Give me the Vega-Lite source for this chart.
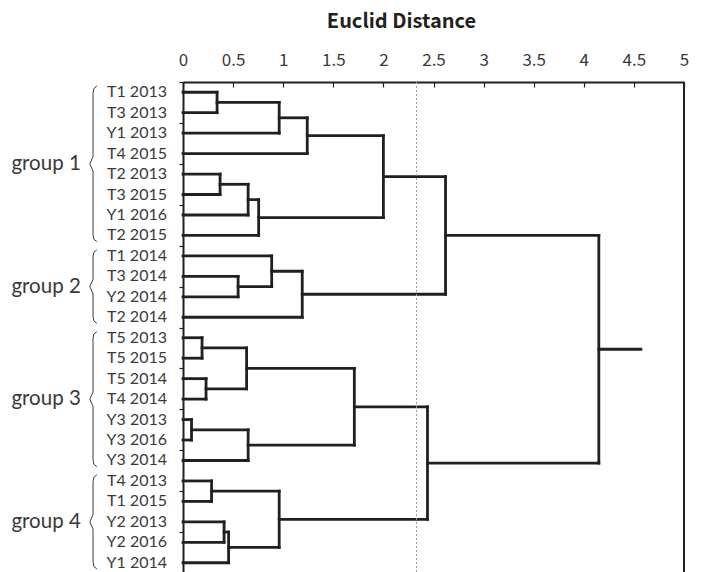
{
  "$schema": "https://vega.github.io/schema/vega-lite/v6.json",
  "width": 501,
  "height": 491,
  "autosize": "none",
  "padding": {"left": 183, "top": 82, "right": 19, "bottom": 0},
  "background": "white",
  "config": {
    "view": {"stroke": null},
    "font": "Noto Sans CJK JP"
  },
  "datasets": {
    "leaves": [
      {"name": "T1 2013", "idx": 0}, {"name": "T3 2013", "idx": 1}, {"name": "Y1 2013", "idx": 2},
      {"name": "T4 2015", "idx": 3}, {"name": "T2 2013", "idx": 4}, {"name": "T3 2015", "idx": 5},
      {"name": "Y1 2016", "idx": 6}, {"name": "T2 2015", "idx": 7}, {"name": "T1 2014", "idx": 8},
      {"name": "T3 2014", "idx": 9}, {"name": "Y2 2014", "idx": 10}, {"name": "T2 2014", "idx": 11},
      {"name": "T5 2013", "idx": 12}, {"name": "T5 2015", "idx": 13}, {"name": "T5 2014", "idx": 14},
      {"name": "T4 2014", "idx": 15}, {"name": "Y3 2013", "idx": 16}, {"name": "Y3 2016", "idx": 17},
      {"name": "Y3 2014", "idx": 18}, {"name": "T4 2013", "idx": 19}, {"name": "T1 2015", "idx": 20},
      {"name": "Y2 2013", "idx": 21}, {"name": "Y2 2016", "idx": 22}, {"name": "Y1 2014", "idx": 23}
    ],
    "segments": [
      {"x1": 0, "x2": 0.34, "y1": 0, "y2": 0}, {"x1": 0, "x2": 0.34, "y1": 1, "y2": 1}, {"x1": 0.34, "x2": 0.34, "y1": 0, "y2": 1},
      {"x1": 0.34, "x2": 0.96, "y1": 0.5, "y2": 0.5}, {"x1": 0, "x2": 0.96, "y1": 2, "y2": 2}, {"x1": 0.96, "x2": 0.96, "y1": 0.5, "y2": 2},
      {"x1": 0.96, "x2": 1.24, "y1": 1.25, "y2": 1.25}, {"x1": 0, "x2": 1.24, "y1": 3, "y2": 3}, {"x1": 1.24, "x2": 1.24, "y1": 1.25, "y2": 3},
      {"x1": 0, "x2": 0.37, "y1": 4, "y2": 4}, {"x1": 0, "x2": 0.37, "y1": 5, "y2": 5}, {"x1": 0.37, "x2": 0.37, "y1": 4, "y2": 5},
      {"x1": 0.37, "x2": 0.65, "y1": 4.5, "y2": 4.5}, {"x1": 0, "x2": 0.65, "y1": 6, "y2": 6}, {"x1": 0.65, "x2": 0.65, "y1": 4.5, "y2": 6},
      {"x1": 0.65, "x2": 0.755, "y1": 5.25, "y2": 5.25}, {"x1": 0, "x2": 0.755, "y1": 7, "y2": 7}, {"x1": 0.755, "x2": 0.755, "y1": 5.25, "y2": 7},
      {"x1": 1.24, "x2": 2.0, "y1": 2.125, "y2": 2.125}, {"x1": 0.755, "x2": 2.0, "y1": 6.125, "y2": 6.125}, {"x1": 2.0, "x2": 2.0, "y1": 2.125, "y2": 6.125},
      {"x1": 0, "x2": 0.55, "y1": 9, "y2": 9}, {"x1": 0, "x2": 0.55, "y1": 10, "y2": 10}, {"x1": 0.55, "x2": 0.55, "y1": 9, "y2": 10},
      {"x1": 0, "x2": 0.885, "y1": 8, "y2": 8}, {"x1": 0.55, "x2": 0.885, "y1": 9.5, "y2": 9.5}, {"x1": 0.885, "x2": 0.885, "y1": 8, "y2": 9.5},
      {"x1": 0.885, "x2": 1.19, "y1": 8.75, "y2": 8.75}, {"x1": 0, "x2": 1.19, "y1": 11, "y2": 11}, {"x1": 1.19, "x2": 1.19, "y1": 8.75, "y2": 11},
      {"x1": 2.0, "x2": 2.62, "y1": 4.125, "y2": 4.125}, {"x1": 1.19, "x2": 2.62, "y1": 9.875, "y2": 9.875}, {"x1": 2.62, "x2": 2.62, "y1": 4.125, "y2": 9.875},
      {"x1": 0, "x2": 0.19, "y1": 12, "y2": 12}, {"x1": 0, "x2": 0.19, "y1": 13, "y2": 13}, {"x1": 0.19, "x2": 0.19, "y1": 12, "y2": 13},
      {"x1": 0, "x2": 0.23, "y1": 14, "y2": 14}, {"x1": 0, "x2": 0.23, "y1": 15, "y2": 15}, {"x1": 0.23, "x2": 0.23, "y1": 14, "y2": 15},
      {"x1": 0.19, "x2": 0.635, "y1": 12.5, "y2": 12.5}, {"x1": 0.23, "x2": 0.635, "y1": 14.5, "y2": 14.5}, {"x1": 0.635, "x2": 0.635, "y1": 12.5, "y2": 14.5},
      {"x1": 0, "x2": 0.085, "y1": 16, "y2": 16}, {"x1": 0, "x2": 0.085, "y1": 17, "y2": 17}, {"x1": 0.085, "x2": 0.085, "y1": 16, "y2": 17},
      {"x1": 0.085, "x2": 0.65, "y1": 16.5, "y2": 16.5}, {"x1": 0, "x2": 0.65, "y1": 18, "y2": 18}, {"x1": 0.65, "x2": 0.65, "y1": 16.5, "y2": 18},
      {"x1": 0.635, "x2": 1.71, "y1": 13.5, "y2": 13.5}, {"x1": 0.65, "x2": 1.71, "y1": 17.25, "y2": 17.25}, {"x1": 1.71, "x2": 1.71, "y1": 13.5, "y2": 17.25},
      {"x1": 0, "x2": 0.285, "y1": 19, "y2": 19}, {"x1": 0, "x2": 0.285, "y1": 20, "y2": 20}, {"x1": 0.285, "x2": 0.285, "y1": 19, "y2": 20},
      {"x1": 0, "x2": 0.41, "y1": 21, "y2": 21}, {"x1": 0, "x2": 0.41, "y1": 22, "y2": 22}, {"x1": 0.41, "x2": 0.41, "y1": 21, "y2": 22},
      {"x1": 0.41, "x2": 0.455, "y1": 21.5, "y2": 21.5}, {"x1": 0, "x2": 0.455, "y1": 23, "y2": 23}, {"x1": 0.455, "x2": 0.455, "y1": 21.5, "y2": 23},
      {"x1": 0.285, "x2": 0.96, "y1": 19.5, "y2": 19.5}, {"x1": 0.455, "x2": 0.96, "y1": 22.25, "y2": 22.25}, {"x1": 0.96, "x2": 0.96, "y1": 19.5, "y2": 22.25},
      {"x1": 1.71, "x2": 2.44, "y1": 15.375, "y2": 15.375}, {"x1": 0.96, "x2": 2.44, "y1": 20.875, "y2": 20.875}, {"x1": 2.44, "x2": 2.44, "y1": 15.375, "y2": 20.875},
      {"x1": 2.62, "x2": 4.15, "y1": 7.0, "y2": 7.0}, {"x1": 2.44, "x2": 4.15, "y1": 18.125, "y2": 18.125}, {"x1": 4.15, "x2": 4.15, "y1": 7.0, "y2": 18.125},
      {"x1": 4.15, "x2": 4.57, "y1": 12.5625, "y2": 12.5625}
    ],
    "groups": [
      {"group": "group 1", "mid": 3.5},
      {"group": "group 2", "mid": 9.5},
      {"group": "group 3", "mid": 15},
      {"group": "group 4", "mid": 21}
    ],
    "braces": [
      {"g": 1, "k": 0, "bx": -0.86, "by": -0.3}, {"g": 1, "k": 1, "bx": -0.89, "by": -0.18}, {"g": 1, "k": 2, "bx": -0.898, "by": 0.05},
      {"g": 1, "k": 3, "bx": -0.898, "by": 3.15}, {"g": 1, "k": 4, "bx": -0.93, "by": 3.5}, {"g": 1, "k": 5, "bx": -0.898, "by": 3.85},
      {"g": 1, "k": 6, "bx": -0.898, "by": 6.95}, {"g": 1, "k": 7, "bx": -0.89, "by": 7.18}, {"g": 1, "k": 8, "bx": -0.86, "by": 7.3},
      {"g": 2, "k": 0, "bx": -0.86, "by": 7.7}, {"g": 2, "k": 1, "bx": -0.89, "by": 7.82}, {"g": 2, "k": 2, "bx": -0.898, "by": 8.05},
      {"g": 2, "k": 3, "bx": -0.898, "by": 9.15}, {"g": 2, "k": 4, "bx": -0.93, "by": 9.5}, {"g": 2, "k": 5, "bx": -0.898, "by": 9.85},
      {"g": 2, "k": 6, "bx": -0.898, "by": 10.95}, {"g": 2, "k": 7, "bx": -0.89, "by": 11.18}, {"g": 2, "k": 8, "bx": -0.86, "by": 11.3},
      {"g": 3, "k": 0, "bx": -0.86, "by": 11.7}, {"g": 3, "k": 1, "bx": -0.89, "by": 11.82}, {"g": 3, "k": 2, "bx": -0.898, "by": 12.05},
      {"g": 3, "k": 3, "bx": -0.898, "by": 14.65}, {"g": 3, "k": 4, "bx": -0.93, "by": 15}, {"g": 3, "k": 5, "bx": -0.898, "by": 15.35},
      {"g": 3, "k": 6, "bx": -0.898, "by": 17.95}, {"g": 3, "k": 7, "bx": -0.89, "by": 18.18}, {"g": 3, "k": 8, "bx": -0.86, "by": 18.3},
      {"g": 4, "k": 0, "bx": -0.86, "by": 18.7}, {"g": 4, "k": 1, "bx": -0.89, "by": 18.82}, {"g": 4, "k": 2, "bx": -0.898, "by": 19.05},
      {"g": 4, "k": 3, "bx": -0.898, "by": 20.65}, {"g": 4, "k": 4, "bx": -0.93, "by": 21}, {"g": 4, "k": 5, "bx": -0.898, "by": 21.35},
      {"g": 4, "k": 6, "bx": -0.898, "by": 22.95}, {"g": 4, "k": 7, "bx": -0.89, "by": 23.18}, {"g": 4, "k": 8, "bx": -0.86, "by": 23.3}
    ]
  },
  "layer": [
    {
      "data": {"name": "segments"},
      "mark": {"type": "rule", "color": "#231f20", "strokeWidth": 2.8, "strokeCap": "square"},
      "encoding": {
        "x": {
          "field": "x1", "type": "quantitative",
          "scale": {"domain": [0, 5], "nice": false, "zero": false},
          "axis": {
            "orient": "top",
            "title": "Euclid Distance",
            "titleFont": "Noto Sans CJK JP",
            "titleFontSize": 20,
            "titleFontWeight": "bold",
            "titleColor": "#231f20",
            "titleX": 218,
            "titleY": -55,
            "titleAlign": "center",
            "titleBaseline": "alphabetic",
            "values": [0, 0.5, 1, 1.5, 2, 2.5, 3, 3.5, 4, 4.5, 5],
            "format": "~g",
            "labelFont": "Noto Sans CJK JP",
            "labelFontSize": 17,
            "labelColor": "#3a3a3a",
            "labelBaseline": "alphabetic",
            "labelPadding": 22,
            "labelFlush": false,
            "labelOverlap": false,
            "tickSize": -5,
            "tickColor": "#231f20",
            "tickWidth": 1.2,
            "domainColor": "#231f20",
            "domainWidth": 2,
            "grid": false
          }
        },
        "x2": {"field": "x2"},
        "y": {
          "field": "y1", "type": "quantitative",
          "scale": {"domain": [-0.5, 23.5], "nice": false, "zero": false, "reverse": true},
          "axis": {
            "values": [-0.5, 0.5, 1.5, 2.5, 3.5, 4.5, 5.5, 6.5, 7.5, 8.5, 9.5, 10.5, 11.5, 12.5, 13.5, 14.5, 15.5, 16.5, 17.5, 18.5, 19.5, 20.5, 21.5, 22.5, 23.5],
            "labels": false,
            "title": null,
            "tickSize": 4,
            "tickColor": "#231f20",
            "tickWidth": 1.2,
            "domainColor": "#231f20",
            "domainWidth": 2,
            "grid": false
          }
        },
        "y2": {"field": "y2"}
      }
    },
    {
      "data": {"values": [{"cut": 2.33}]},
      "mark": {"type": "rule", "color": "#9a9a9a", "strokeWidth": 1, "strokeDash": [2, 2]},
      "encoding": {"x": {"field": "cut", "type": "quantitative"}}
    },
    {
      "data": {"values": [{"edge": 5}]},
      "mark": {"type": "rule", "color": "#231f20", "strokeWidth": 2},
      "encoding": {"x": {"field": "edge", "type": "quantitative"}}
    },
    {
      "data": {"name": "leaves"},
      "mark": {"type": "text", "align": "right", "baseline": "middle", "dx": -16, "fontSize": 16, "font": "Lato", "color": "#3a3a3a"},
      "encoding": {
        "x": {"datum": 0, "type": "quantitative"},
        "y": {"field": "idx", "type": "quantitative"},
        "text": {"field": "name"}
      }
    },
    {
      "data": {"name": "groups"},
      "mark": {"type": "text", "align": "right", "baseline": "middle", "fontSize": 20.5, "font": "Lato", "color": "#3a3a3a"},
      "encoding": {
        "x": {"datum": -1.02, "type": "quantitative"},
        "y": {"field": "mid", "type": "quantitative"},
        "text": {"field": "group"}
      }
    },
    {
      "data": {"name": "braces"},
      "mark": {"type": "line", "color": "#3a3a3a", "strokeWidth": 1, "interpolate": "linear"},
      "encoding": {
        "x": {"field": "bx", "type": "quantitative"},
        "y": {"field": "by", "type": "quantitative"},
        "detail": {"field": "g"},
        "order": {"field": "k"}
      }
    }
  ]
}
